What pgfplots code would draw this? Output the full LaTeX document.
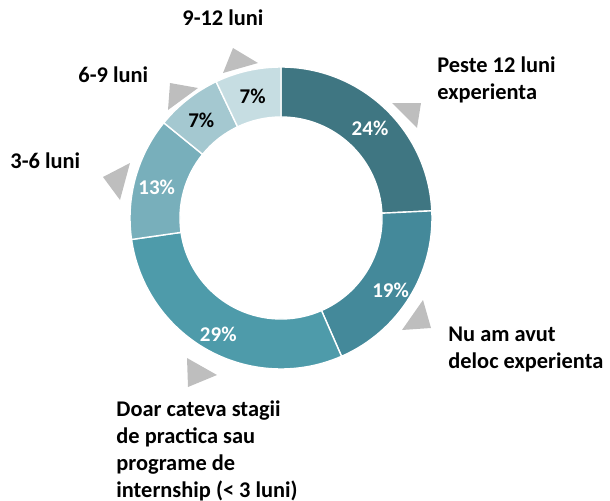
\documentclass[border=0pt]{standalone}
\usepackage{pgfplots}
\pgfplotsset{compat=1.18}
\usepackage{pgfplotstable}
\usepackage{fontspec}
\setmainfont{Carlito}
\definecolor{s0}{HTML}{3F7682}
\definecolor{s1}{HTML}{44899A}
\definecolor{s2}{HTML}{4E9BAA}
\definecolor{s3}{HTML}{78AFBB}
\definecolor{s4}{HTML}{A4C8D0}
\definecolor{s5}{HTML}{C6DDE2}
\colorlet{t0}{white}\colorlet{t1}{white}\colorlet{t2}{white}\colorlet{t3}{white}
\colorlet{t4}{black}\colorlet{t5}{black}
\definecolor{tri}{HTML}{BEBEBE}
\pgfplotstableread{
label value
P12 24
Nu 19
Doar 29
T36 13
S69 7
N912 7
}\data
\begin{document}
\begin{tikzpicture}[font=\fontsize{10.5}{13.5}\selectfont\bfseries]
\begin{axis}[hide axis, scale only axis, width=305pt, height=250pt,
  xmin=0, xmax=610, ymin=0, ymax=500, clip=false]
\pgfplotsextra{
  \coordinate (C) at (axis cs:281,282);
  \gdef\tot{0}
  \foreach \i in {0,...,5}{%
    \pgfplotstablegetelem{\i}{value}\of\data
    \pgfmathparse{\tot+\pgfplotsretval}\xdef\tot{\pgfmathresult}}
  \pgfmathsetmacro{\k}{360/\tot}
  \xdef\k{\k}
  \gdef\cum{0}
  \foreach \i in {0,...,5}{%
    \pgfplotstablegetelem{\i}{value}\of\data
    \let\v\pgfplotsretval
    \pgfmathsetmacro{\a}{90-\k*\cum}
    \pgfmathsetmacro{\b}{90-\k*(\cum+\v)}
    \pgfmathsetmacro{\m}{(\a+\b)/2}
    \fill[s\i, draw=white, line width=0.7pt]
      ([shift={(\a:75.5pt)}]C) arc[start angle=\a, end angle=\b, radius=75.5pt]
      -- ([shift={(\b:50.5pt)}]C) arc[start angle=\b, end angle=\a, radius=50.5pt] -- cycle;
    \node[text=t\i, inner sep=0pt, yshift=-2pt] at ([shift={(\m:64.5pt)}]C) {\v\%};
    \pgfmathparse{\cum+\v}\xdef\cum{\pgfmathresult}
  }
}
% decorative pointers
\fill[tri] (axis cs:392,397) -- (axis cs:421,397) -- (axis cs:417,372) -- cycle;
\fill[tri] (axis cs:423,200) -- (axis cs:431,172) -- (axis cs:402,170) -- cycle;
\fill[tri] (axis cs:187,142) -- (axis cs:217,125) -- (axis cs:188,113) -- cycle;
\fill[tri] (axis cs:130,337) -- (axis cs:103,323) -- (axis cs:120,300) -- cycle;
\fill[tri] (axis cs:170,417) -- (axis cs:198,412) -- (axis cs:168,390) -- cycle;
\fill[tri] (axis cs:233,452) -- (axis cs:258,437) -- (axis cs:223,427) -- cycle;
% category labels
\begin{scope}[font=\fontsize{11.2}{13.5}\selectfont\bfseries]
\node[anchor=base west, inner sep=0pt, align=left] at (axis cs:437,401) {Peste 12 luni\\experienta};
\node[anchor=base west, inner sep=0pt, align=left] at (axis cs:448,132) {Nu am avut\\deloc experienta};
\node[anchor=base west, inner sep=0pt, align=left] at (axis cs:116,3) {Doar cateva stagii\\de practica sau\\programe de\\internship (< 3 luni)};
\node[anchor=base west, inner sep=0pt] at (axis cs:10,332) {3-6 luni};
\node[anchor=base west, inner sep=0pt] at (axis cs:78,418) {6-9 luni};
\node[anchor=base west, inner sep=0pt] at (axis cs:182,475) {9-12 luni};
\end{scope}
\end{axis}
\pgfresetboundingbox
\path (current axis.south west) rectangle (current axis.north east);
\end{tikzpicture}
\end{document}
